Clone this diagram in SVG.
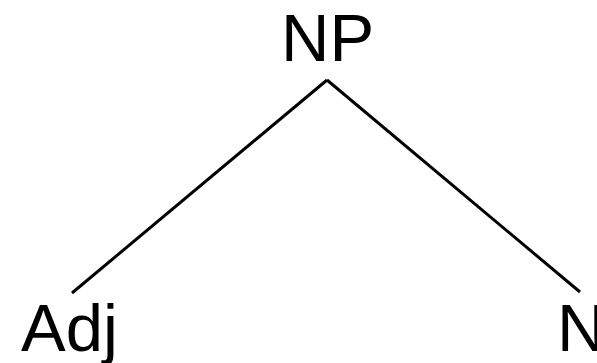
<svg xmlns="http://www.w3.org/2000/svg" width="597" height="363" viewBox="0 0 597 363">
<style>
text{font-family:"Liberation Sans",Arial,sans-serif;font-size:67px;fill:#000}
.e{stroke:#000;stroke-width:3;fill:none}
</style>
<rect width="597" height="363" fill="#fff"/>
<g id="connectors">
<line class="e" x1="327" y1="80" x2="72" y2="293"/>
<line class="e" x1="327" y1="80" x2="580" y2="292"/>
</g>
<g id="NP"><text x="281" y="61">NP</text></g>
<g id="Adj"><text x="21" y="351">Adj</text></g>
<g id="N"><text x="557" y="351">N</text></g>
</svg>
